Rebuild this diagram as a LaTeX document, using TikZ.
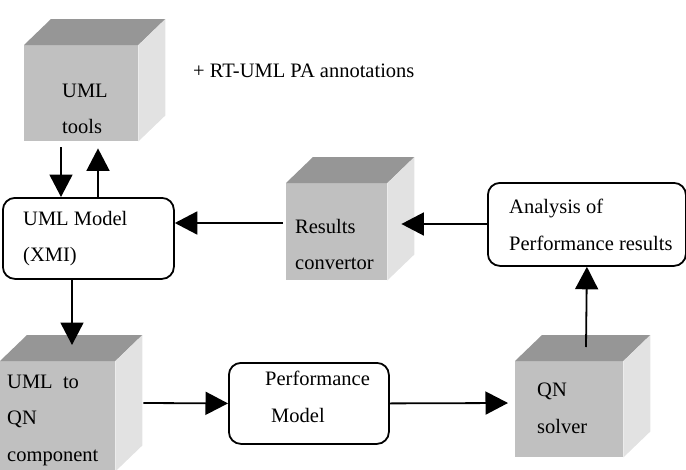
\documentclass[tikz,border=0pt]{standalone}
\usepackage{fontspec}
\setmainfont{Liberation Serif}
\usetikzlibrary{arrows.meta,calc}

\definecolor{cubefront}{RGB}{192,192,192}
\definecolor{cubetop}{RGB}{150,150,150}
\definecolor{cubeside}{RGB}{226,226,226}

% top and right faces behind a cube's front face
\newcommand\cubeshade[1]{%
  \fill[cubetop] (#1.north west) -- ++(27,-26) -- ($(#1.north east)+(27,-26)$) -- (#1.north east) -- cycle;
  \fill[cubeside] (#1.north east) -- ++(27,-26) -- ($(#1.south east)+(27,-26)$) -- (#1.south east) -- cycle;
}

\begin{document}
\begin{tikzpicture}[x=1pt,y=-1pt,
  every node/.style={font=\fontsize{20.5}{36.5}\selectfont},
  cubeface/.style={fill=cubefront, draw=none, inner sep=0, anchor=north west},
  rbox/.style={draw, line width=1.8pt, rounded corners=12pt, inner sep=0, anchor=north west},
  txt/.style={inner sep=0, anchor=north west, align=left},
  arr/.style={line width=1.8pt, -{Triangle[length=22.5pt,width=23pt]}}]
\useasboundingbox (0,0) rectangle (686,469);

% cube-shaped processing components
\node[cubeface, minimum width=114, minimum height=96]  (tools)  at (24,45)  {};
\node[cubeface, minimum width=101, minimum height=97]  (conv)   at (286,183) {};
\node[cubeface, minimum width=115, minimum height=110] (qnc)    at (0,361)  {};
\node[cubeface, minimum width=108, minimum height=96]  (solver) at (515,361) {};
\cubeshade{tools}
\cubeshade{conv}
\cubeshade{qnc}
\cubeshade{solver}

% rounded model boxes
\node[rbox, minimum width=171, minimum height=81] (model) at (2,197)   {};
\node[rbox, minimum width=198, minimum height=83] (ana)   at (487,182) {};
\node[rbox, minimum width=160, minimum height=81] (perf)  at (228,362) {};

% labels
\node[txt] (toolsText)  at (62,83.4)  {UML\\tools};
\node[txt] (annot)      at (193,63.4) {+ RT-UML PA annotations};
\node[txt] (modelText)  at (23,211)   {UML Model\\(XMI)};
\node[txt] (convText)   at (295,219)  {Results\\convertor};
\node[txt] (anaText)    at (509,199)  {Analysis of\\Performance results};
\node[txt] (qncText)    at (7,374.4)  {UML\ \ to\\QN\\component};
\node[txt] (perfText)   at (265,371)  {Performance\\\hspace*{6pt}Model};
\node[txt] (solverText) at (537,383)  {QN\\solver};

% data flow
\draw[arr] ([shift={(37,6)}]tools.south west) -- ([shift={(59,0)}]model.north west);
\draw[arr] ([shift={(96,0)}]model.north west) -- ([shift={(74,7)}]tools.south west);
\draw[arr] ([shift={(-3,40)}]conv.north west) -- ([shift={(0,26)}]model.north east);
\draw[arr] ([shift={(0,42)}]ana.north west) -- ([shift={(14,41)}]conv.north east);
\draw[arr] ([shift={(70,0)}]model.south west) -- ([shift={(72,-16)}]qnc.north west);
\draw[arr] ([shift={(28,42)}]qnc.north east) -- (perf.west);
\draw[arr] (perf.east) -- ([shift={(-7,42)}]solver.north west);
\draw[arr] ([shift={(71,-14)}]solver.north west) -- (ana.south);
\end{tikzpicture}
\end{document}
